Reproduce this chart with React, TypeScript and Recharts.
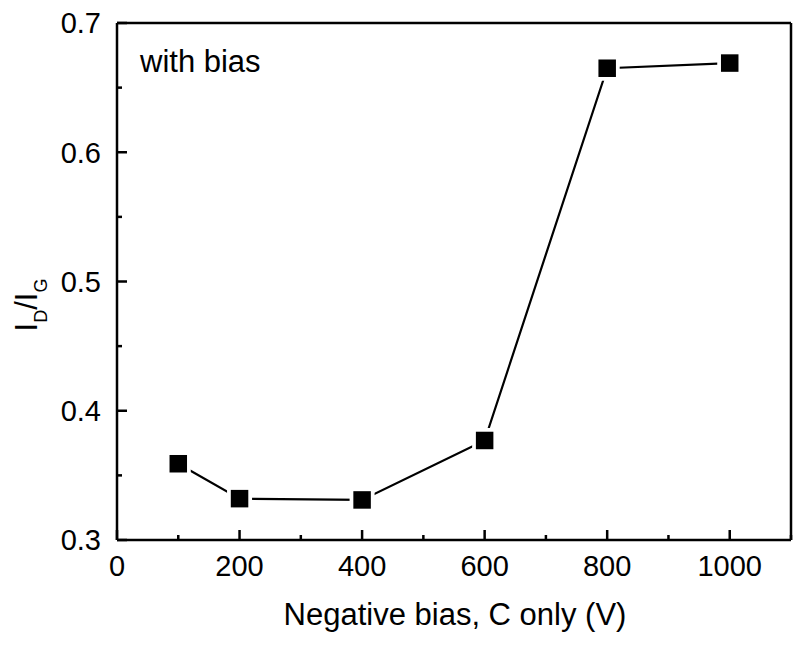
import React from "react";
import { LineChart, Line, XAxis, YAxis, ReferenceLine } from "recharts";

if (typeof document !== "undefined") {
  document.body.style.margin = "0";
}

const biasVolts = [100, 200, 400, 600, 800, 1000];
const ratioDG = [0.359, 0.332, 0.331, 0.377, 0.665, 0.669];
const xTicks = [0, 100, 200, 300, 400, 500, 600, 700, 800, 900, 1000, 1100];
const xMajorTicks = [0, 200, 400, 600, 800, 1000];
const yTicks = [0.3, 0.35, 0.4, 0.45, 0.5, 0.55, 0.6, 0.65, 0.7];
const yMajorTicks = [0.3, 0.4, 0.5, 0.6, 0.7];
const xTitle = "Negative bias, C only (V)";
const annotation = "with bias";

const data = biasVolts.map((v, i) => ({ bias: v, ratio: ratioDG[i] }));

const FONT = "'Liberation Sans', Arial, Helvetica, sans-serif";
const AXIS_W = 2.5;

const XTick = (props: any) => {
  const { x, y, payload } = props;
  const v = payload.value;
  const major = xMajorTicks.includes(v);
  return (
    <g>
      <line x1={x} x2={x} y1={y} y2={y - (major ? 10 : 5)} stroke="#000" strokeWidth={AXIS_W} />
      {major && (
        <text x={x} y={y + 36} textAnchor="middle" fontSize={29} fontFamily={FONT} fill="#000">
          {v}
        </text>
      )}
    </g>
  );
};

const YTick = (props: any) => {
  const { x, y, payload } = props;
  const v = payload.value;
  const major = yMajorTicks.some((m) => Math.abs(m - v) < 1e-6);
  return (
    <g>
      <line x1={x} x2={x + (major ? 10 : 5)} y1={y} y2={y} stroke="#000" strokeWidth={AXIS_W} />
      {major && (
        <text x={x - 16} y={y} dy="0.36em" textAnchor="end" fontSize={29} fontFamily={FONT} fill="#000">
          {v.toFixed(1)}
        </text>
      )}
    </g>
  );
};

const SquareDot = (props: any) => {
  const { cx, cy, index } = props;
  if (cx == null || cy == null) return <g key={index} />;
  return (
    <g key={index}>
      <rect x={cx - 12.5} y={cy - 12.5} width={25} height={25} fill="#fff" />
      <rect x={cx - 8.75} y={cy - 8.75} width={17.5} height={17.5} fill="#000" />
    </g>
  );
};

const YLabel = () => (
  <text
    transform="translate(37,305) rotate(-90)"
    textAnchor="middle"
    fontSize={31}
    fontFamily={FONT}
    fill="#000"
  >
    <tspan>I</tspan>
    <tspan dy={10} fontSize={18}>D</tspan>
    <tspan dy={-10}>/I</tspan>
    <tspan dy={10} fontSize={18}>G</tspan>
  </text>
);

const XLabel = () => (
  <text x={455} y={625} textAnchor="middle" fontSize={31} fontFamily={FONT} fill="#000">
    {xTitle}
  </text>
);

export default function App() {
  return (
    <div style={{ position: "relative", width: 795, height: 653, background: "#fff" }}>
      <LineChart width={795} height={653} data={data} margin={{ top: 23, right: 4, bottom: 0, left: 0 }}>
        <XAxis
          type="number"
          dataKey="bias"
          domain={[0, 1100]}
          ticks={xTicks}
          interval={0}
          tickSize={0}
          tickMargin={0}
          tickLine={false}
          axisLine={{ stroke: "#000", strokeWidth: AXIS_W }}
          tick={(p: any) => <XTick {...p} />}
          height={113}
          allowDataOverflow
          label={<XLabel />}
        />
        <YAxis
          type="number"
          domain={[0.3, 0.7]}
          ticks={yTicks}
          interval={0}
          tickSize={0}
          tickMargin={0}
          tickLine={false}
          axisLine={{ stroke: "#000", strokeWidth: AXIS_W }}
          tick={(p: any) => <YTick {...p} />}
          width={117}
          allowDataOverflow
          label={<YLabel />}
        />
        <ReferenceLine y={0.7} stroke="#000" strokeWidth={AXIS_W} />
        <ReferenceLine x={1100} stroke="#000" strokeWidth={AXIS_W} />
        <Line
          type="linear"
          dataKey="ratio"
          stroke="#000"
          strokeWidth={2.2}
          dot={(p: any) => <SquareDot {...p} />}
          activeDot={false}
          isAnimationActive={false}
        />
      </LineChart>
      <div
        style={{
          position: "absolute",
          left: 140,
          top: 46,
          fontSize: 31,
          lineHeight: "31px",
          fontFamily: FONT,
          color: "#000",
          whiteSpace: "nowrap",
        }}
      >
        {annotation}
      </div>
    </div>
  );
}
